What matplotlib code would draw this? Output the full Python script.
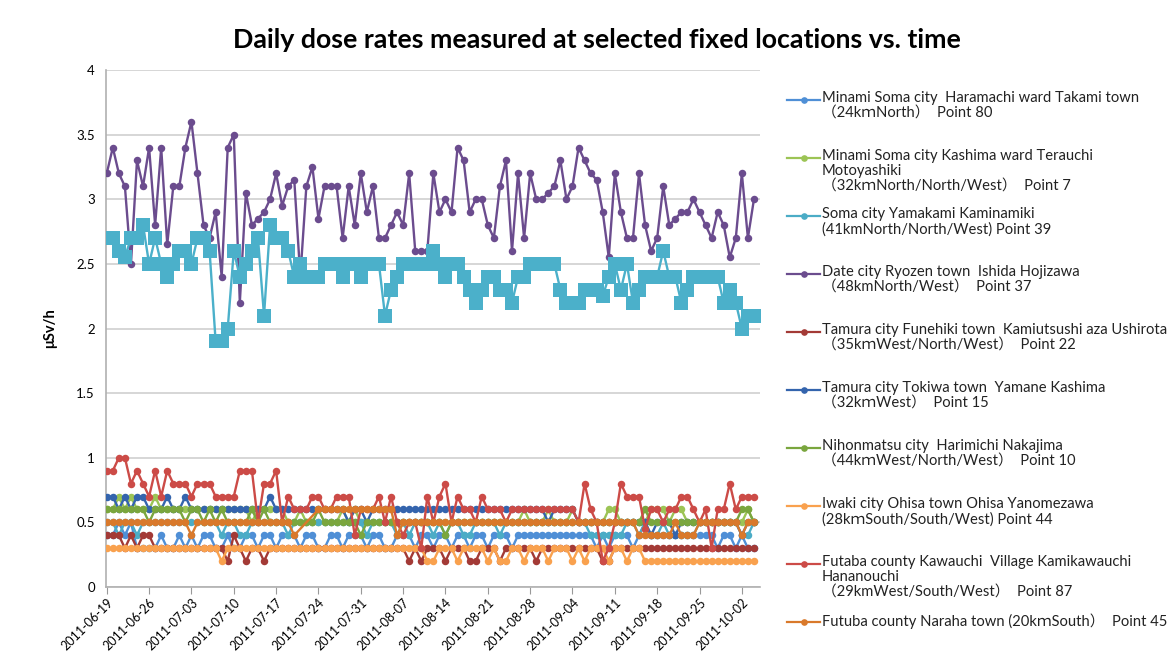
import numpy as np
import pandas as pd
import matplotlib
matplotlib.use("Agg")
import matplotlib.pyplot as plt
from matplotlib.lines import Line2D

plt.rcParams['font.family'] = ['Lato', 'Noto Sans CJK JP', 'DejaVu Sans']

start = "2011-06-19"
n_days = 108
tick_labels = ["2011-06-19", "2011-06-26", "2011-07-03", "2011-07-10", "2011-07-17",
               "2011-07-24", "2011-07-31", "2011-08-07", "2011-08-14", "2011-08-21",
               "2011-08-28", "2011-09-04", "2011-09-11", "2011-09-18", "2011-09-25",
               "2011-10-02"]
y_ticks = [0, 0.5, 1, 1.5, 2, 2.5, 3, 3.5, 4]

N = None
minami_haramachi = [0.4,0.4,0.5,0.4,0.5,0.3,0.3,0.3,0.3,0.4, 0.3,0.3,0.4,0.3,0.4,0.3,0.4,0.4,0.3,0.3,
                    0.4,0.3,0.3,0.4,0.4,0.3,0.4,0.4,0.3,0.4, 0.4,0.4,0.3,0.4,0.4,0.3,0.3,0.4,0.4,0.3,
                    0.4,0.4,0.4,0.3,0.4,0.4,0.3,0.3,0.4,0.4, 0.4,0.3,0.4,0.4,0.3,0.4,0.4,0.3,0.4,0.4,
                    0.3,0.4,0.4,0.3,0.4,0.4,0.4,0.3,0.4,0.4, 0.4,0.4,0.4,0.4,0.4,0.4,0.4,0.4,0.4,0.4,
                    0.4,0.3,0.4,0.3,0.4,0.4,0.4,0.3,0.4,0.5, 0.4,0.4,0.4,0.4,0.4,0.4,0.4,0.4,0.4,0.4,
                    0.4,0.3,0.4,0.4,0.3,0.4,0.3,0.3]
minami_kashima = [0.6,0.6,0.7,0.6,0.7,0.6,0.6,0.6,0.7,0.6, 0.6,0.6,0.6,0.6,0.6,0.6,0.6,0.6,0.6,0.6,
                  0.6,0.6,0.6,0.6,0.5,0.6,0.6,0.6,0.6,0.6, 0.5,0.5,0.6,0.5,0.5,0.5,0.5,0.5,0.5,0.6,
                  0.5,0.6,0.5,0.5,0.5,0.5,0.5,0.5,0.5,0.5, 0.5,0.5,0.5,0.5,0.5,0.5,0.5,0.5,0.5,0.5,
                  0.5,0.5,0.5,0.5,0.5,0.5,0.5,0.5,0.5,0.6, 0.5,0.5,0.5,0.6,0.5,0.5,0.5,0.6,0.5,0.5,
                  0.5,0.5,0.5,0.6,0.6,0.5,0.5,0.5,0.5,0.5, 0.6,0.6,0.6,0.5,0.6,0.6,0.5,0.5,0.5,0.5,
                  0.5,0.5,0.5,0.5,0.5,0.5,0.6,0.5]
soma = [0.5,0.5,0.4,0.5,0.5,0.4,0.5,0.5,0.5,0.5, 0.5,0.5,0.5,0.5,0.5,0.5,0.5,0.5,0.5,0.4,
        0.5,0.5,0.4,0.4,0.5,0.5,0.5,0.5,0.5,0.5, 0.4,0.5,0.5,0.5,0.5,0.5,0.5,0.5,0.5,0.5,
        0.5,0.5,0.5,0.4,0.5,0.5,0.5,0.5,0.4,0.5, 0.4,0.5,0.5,0.5,0.4,0.5,0.4,0.5,0.5,0.4,
        0.4,0.5,0.5,0.5,0.5,0.4,0.5,0.5,0.5,0.5, 0.5,0.5,0.5,0.5,0.5,0.5,0.5,0.5,0.5,0.5,
        0.4,0.4,0.4,0.4,0.4,0.4,0.5,0.5,0.4,0.5, 0.4,0.4,0.5,0.4,0.4,0.4,0.4,0.4,0.5,0.5,
        0.5,0.5,0.5,0.5,0.5,0.4,0.4,0.5]
date_ryozen = [3.2,3.4,3.2,3.1,2.5,3.3,3.1,3.4,2.8,3.4, 2.65,3.1,3.1,3.4,3.6,3.2,2.8,2.7,2.9,2.4,
               3.4,3.5,2.2,3.05,2.8,2.85,2.9,3.0,3.2,2.95, 3.1,3.15,2.4,3.1,3.25,2.85,3.1,3.1,3.1,2.7,
               3.1,2.8,3.2,2.9,3.1,2.7,2.7,2.8,2.9,2.8, 3.2,2.6,2.6,2.6,3.2,2.9,3.0,2.9,3.4,3.3,
               2.9,3.0,3.0,2.8,2.7,3.1,3.3,2.6,3.2,2.7, 3.2,3.0,3.0,3.05,3.1,3.3,3.0,3.1,3.4,3.3,
               3.2,3.15,2.9,2.55,3.2,2.9,2.7,2.7,3.2,2.8, 2.6,2.7,3.1,2.8,2.85,2.9,2.9,3.0,2.9,2.8,
               2.7,2.9,2.8,2.55,2.7,3.2,2.7,3.0]
tamura_funehiki = [0.4,0.4,0.4,0.3,0.4,0.3,0.4,0.4,0.3,0.3, 0.3,0.3,0.3,0.3,0.3,0.3,0.3,0.3,0.3,0.3,
                   0.2,0.4,0.3,0.2,0.3,0.3,0.2,0.3,0.3,0.3, 0.3,0.3,0.3,0.3,0.3,0.3,0.3,0.3,0.3,0.3,
                   0.3,0.3,0.3,0.3,0.3,0.3,0.3,0.3,0.3,0.3, 0.2,0.3,0.2,0.3,0.3,0.3,0.2,0.3,0.3,0.3,
                   0.2,0.2,0.3,0.3,0.3,0.2,0.3,0.3,0.3,0.3, 0.3,0.2,0.3,0.3,0.3,0.3,0.3,0.3,0.3,0.3,
                   0.3,0.3,0.2,0.2,0.3,0.3,0.3,0.3,0.3,0.3, 0.3,0.3,0.3,0.3,0.3,0.3,0.3,0.3,0.3,0.3,
                   0.3,0.3,0.3,0.3,0.3,0.3,0.3,0.3]
tamura_tokiwa = [0.7,0.7,0.6,0.7,0.6,0.7,0.7,0.6,0.6,0.6, 0.7,0.6,0.6,0.7,0.6,0.6,0.6,0.6,0.6,0.6,
                 0.6,0.6,0.6,0.6,0.6,0.6,0.6,0.7,0.6,0.6, 0.6,0.6,0.6,0.6,0.6,0.6,0.6,0.6,0.6,0.6,
                 0.5,0.6,0.6,0.5,0.6,0.6,0.6,0.6,0.6,0.6, 0.6,0.6,0.6,0.6,0.6,0.6,0.6,0.6,0.6,0.6,
                 0.6,0.6,0.6,0.6,0.6,0.6,0.6,0.6,0.6,0.6, 0.6,0.6,0.6,0.5,0.6,0.6,0.6,0.6,0.5,0.5,
                 0.5,0.5,0.5,0.5,0.5,0.5,0.5,0.5,0.5,0.5, 0.4,0.5,0.5,0.5,0.4,0.5,0.5,0.5,0.5,0.5,
                 0.5,0.5,0.5,0.5,0.5,0.4,0.5,0.5]
nihonmatsu = [0.6,0.6,0.6,0.6,0.6,0.6,0.6,0.5,0.6,0.6, 0.6,0.6,0.6,0.5,0.6,0.6,0.5,0.6,0.5,0.6,
              0.5,0.5,0.5,0.5,0.6,0.5,0.6,0.5,0.5,0.5, 0.5,0.5,0.5,0.5,0.5,0.6,0.5,0.5,0.5,0.5,
              0.5,0.5,0.4,0.5,0.5,0.5,0.5,0.5,0.5,0.5, 0.5,0.5,0.5,0.5,0.5,0.5,0.4,0.5,0.5,0.5,
              0.5,0.5,0.5,0.5,0.5,0.5,0.5,0.5,0.5,0.5, 0.5,0.5,0.5,0.5,0.5,0.5,0.5,0.5,0.5,0.5,
              0.5,0.5,0.5,0.5,0.5,0.5,0.5,0.5,0.5,0.6, 0.5,0.5,0.5,0.5,0.5,0.5,0.5,0.5,0.5,0.5,
              0.5,0.5,0.5,0.5,0.5,0.6,0.6,0.5]
iwaki = [0.3,0.3,0.3,0.3,0.3,0.3,0.3,0.3,0.3,0.3, 0.3,0.3,0.3,0.3,0.3,0.3,0.3,0.3,0.3,0.2,
         0.3,0.3,0.3,0.3,0.3,0.3,0.3,0.3,0.3,0.3, 0.3,0.3,0.3,0.3,0.3,0.3,0.3,0.3,0.3,0.3,
         0.3,0.3,0.3,0.3,0.3,0.3,0.3,0.3,0.3,0.3, 0.3,0.3,0.3,0.2,0.2,0.3,0.3,0.3,0.2,0.3,
         0.3,0.3,0.3,0.2,0.3,0.2,0.2,0.3,0.3,0.2, 0.3,0.3,0.3,0.2,0.3,0.3,0.3,0.2,0.3,0.2,
         0.3,0.3,0.3,0.2,0.3,0.3,0.2,0.3,0.3,0.2, 0.2,0.2,0.2,0.2,0.2,0.2,0.2,0.2,0.2,0.2,
         0.2,0.2,0.2,0.2,0.2,0.2,0.2,0.2]
kawauchi = [0.9,0.9,1.0,1.0,0.8,0.9,0.8,0.7,0.9,0.7, 0.9,0.8,0.8,0.8,0.7,0.8,0.8,0.8,0.7,0.7,
            0.7,0.7,0.9,0.9,0.9,0.5,0.8,0.8,0.9,0.5, 0.7,0.6,0.6,0.6,0.7,0.7,0.6,0.6,0.7,0.7,
            0.7,0.4,0.6,0.6,0.6,0.7,0.5,0.7,0.5,0.4, 0.5,0.5,0.3,0.7,0.5,0.7,0.8,0.5,0.7,0.6,
            0.6,0.5,0.7,0.6,0.6,0.6,0.5,0.6,0.6,0.6, 0.6,0.6,0.6,0.6,0.6,0.6,0.6,0.6,0.5,0.8,
            0.6,0.5,0.2,0.3,0.5,0.8,0.7,0.7,0.7,0.45, 0.6,0.6,0.5,0.6,0.6,0.7,0.7,0.6,0.5,0.6,
            0.3,0.6,0.6,0.8,0.6,0.7,0.7,0.7]
naraha = [0.5,0.5,0.5,0.5,0.5,0.5,0.5,0.5,0.5,0.5, 0.5,0.5,0.5,0.5,0.4,0.5,0.5,0.5,0.5,0.5,
          0.5,0.5,0.5,0.5,0.5,0.5,0.5,0.5,0.5,0.5, 0.5,0.4,N,N,N,0.6,0.6,0.6,0.6,0.6,
          0.6,0.6,0.6,0.6,0.6,0.6,0.6,0.6,0.4,0.5, 0.5,0.5,0.5,0.5,0.5,0.5,0.5,0.5,0.5,0.5,
          0.5,0.5,0.5,0.5,0.5,0.5,0.5,0.5,0.5,0.5, 0.5,0.5,0.5,0.5,0.5,0.5,0.5,0.5,0.5,0.5,
          0.5,0.5,0.5,0.5,0.5,0.5,0.5,0.5,0.4,0.4, 0.4,0.4,0.4,0.4,0.5,0.4,0.4,0.4,0.5,0.5,
          0.5,0.5,0.5,0.5,0.5,0.4,0.5,0.5]
soma_squares = [2.7,2.7,2.6,2.55,2.7,2.7,2.8,2.5,2.7,2.5, 2.4,2.5,2.6,2.6,2.5,2.7,2.7,2.6,1.9,1.9,
                2.0,2.6,2.4,2.5,2.6,2.7,2.1,2.8,2.7,2.7, 2.6,2.4,2.5,2.4,2.4,2.4,2.5,2.5,2.5,2.4,
                2.5,2.5,2.4,2.5,2.5,2.5,2.1,2.3,2.4,2.5, 2.5,2.5,2.5,2.5,2.6,2.5,2.4,2.5,2.5,2.4,
                2.3,2.2,2.3,2.4,2.4,2.3,2.3,2.2,2.4,2.4, 2.5,2.5,2.5,2.5,2.5,2.3,2.2,2.2,2.2,2.3,
                2.3,2.3,2.25,2.4,2.5,2.3,2.5,2.2,2.3,2.4, 2.4,2.4,2.6,2.4,2.4,2.2,2.3,2.4,2.4,2.4,
                2.4,2.4,2.2,2.3,2.2,2.0,2.1,2.1]

labels = [
    "Minami Soma city  Haramachi ward Takami town\n（24kｍNorth）  Point 80",
    "Minami Soma city Kashima ward Terauchi\nMotoyashiki\n（32kｍNorth/North/West）  Point 7",
    "Soma city Yamakami Kaminamiki\n(41kmNorth/North/West) Point 39",
    "Date city Ryozen town  Ishida Hojizawa\n（48kmNorth/West）  Point 37",
    "Tamura city Funehiki town  Kamiutsushi aza Ushirota\n（35kｍWest/North/West）  Point 22",
    "Tamura city Tokiwa town  Yamane Kashima\n（32kｍWest）  Point 15",
    "Nihonmatsu city  Harimichi Nakajima\n（44kｍWest/North/West）  Point 10",
    "Iwaki city Ohisa town Ohisa Yanomezawa\n(28kｍSouth/South/West) Point 44",
    "Futaba county Kawauchi  Village Kamikawauchi\nHananouchi\n（29kmWest/South/West）  Point 87",
    "Futuba county Naraha town (20kｍSouth）  Point 45",
]
series = [minami_haramachi, minami_kashima, soma, date_ryozen, tamura_funehiki,
          tamura_tokiwa, nihonmatsu, iwaki, kawauchi, naraha]
colors = ["#4f8fd6", "#9cc455", "#4bacc6", "#6b4c8e", "#a33a36",
          "#3464ad", "#7aa63e", "#f9a14e", "#cc4b47", "#d9792b"]

dates = pd.date_range(start, periods=n_days, freq="D")

fig = plt.figure(figsize=(11.68, 6.61), dpi=100)
ax = fig.add_axes([106/1168, 1-587/661, (760-106)/1168, (587-70)/661])

for vals, col in zip(series, colors):
    v = np.array([np.nan if x is None else x for x in vals], dtype=float)
    m = ~np.isnan(v)
    ax.plot(dates[m], v[m], color=col, lw=1.7, marker='o', ms=5.4,
            markeredgewidth=0, zorder=3)
ax.plot(dates, soma_squares, color="#4bb0ca", lw=1.7, marker='s', ms=9.5,
        markeredgewidth=0, zorder=4)

ax.set_ylim(0, 4)
ax.set_yticks(y_ticks)
ax.set_yticklabels(["0", "0.5", "1", "1.5", "2", "2.5", "3", "3.5", "4"], fontsize=9.5)
ax.set_xlim(dates[0] - pd.Timedelta(hours=3), dates[0] + pd.Timedelta(days=108))
ax.set_xticks(pd.to_datetime(tick_labels))
ax.set_xticklabels(tick_labels, rotation=45, ha='right', rotation_mode='anchor', fontsize=9)
ax.tick_params(axis='x', length=5, color="#999999", pad=2)
ax.tick_params(axis='y', length=0, pad=8)
ax.grid(axis='y', color="#d0d0d0", lw=1.2)
ax.set_axisbelow(True)
for s in ['top', 'right']:
    ax.spines[s].set_visible(False)
for s in ['left', 'bottom']:
    ax.spines[s].set_color("#b0b0b0")
    ax.spines[s].set_linewidth(1.2)
ax.set_ylabel("μSv/h", fontsize=10.5, fontweight='bold', labelpad=14)

fig.text(597/1168, 1-40/661, "Daily dose rates measured at selected fixed locations vs. time",
         ha='center', va='center', fontsize=19.3, fontweight='bold')

# legend
W, H = 1168, 661
for i, (lab, col) in enumerate(zip(labels, colors)):
    y = 100 + i * 58.0
    fig.add_artist(Line2D([787/W, 820/W], [1-y/H, 1-y/H], color=col, lw=1.6,
                          transform=fig.transFigure))
    fig.add_artist(Line2D([803.5/W], [1-y/H], color=col, marker='o', ms=4.8,
                          markeredgewidth=0, transform=fig.transFigure))
    fig.text(822/W, 1-(y-9)/H, lab, ha='left', va='top', fontsize=10.6,
             linespacing=1.1, color="#222222")

fig.savefig("out.png", dpi=100)
